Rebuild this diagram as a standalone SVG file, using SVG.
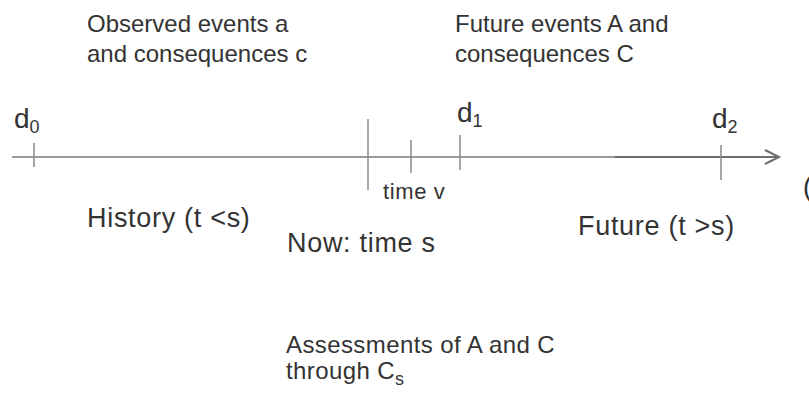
<svg xmlns="http://www.w3.org/2000/svg" width="809" height="396" viewBox="0 0 809 396">
<style>
text{font-family:"Liberation Sans",Arial,sans-serif;fill:#333}
.m{font-size:24px}
.b{font-size:27px;letter-spacing:0.7px}
.d{font-size:28px}
.sub{font-size:18px}
.tick{stroke:#8a8a8a;stroke-width:1.5}
</style>
<rect width="809" height="396" fill="#fff"/>
<g id="connectors">
<line x1="12" y1="157" x2="779" y2="157" stroke="#9a9a9a" stroke-width="2"/>
<line x1="615" y1="157" x2="779" y2="157" stroke="#6e6e6e" stroke-width="2"/>
<polyline points="765,150 779,157 765,164" fill="none" stroke="#6e6e6e" stroke-width="2"/>
</g>
<g id="d0"><line class="tick" x1="34" y1="143" x2="34" y2="167"/><text class="d" x="14" y="128">d<tspan class="sub" dy="5">0</tspan></text></g>
<g id="now"><line class="tick" x1="368" y1="119" x2="368" y2="190"/><text class="b" x="287" y="252">Now: time s</text></g>
<g id="timev"><line class="tick" x1="411" y1="140" x2="411" y2="173"/><text x="383" y="199" style="font-size:22px;letter-spacing:0.6px">time v</text></g>
<g id="d1"><line class="tick" x1="460" y1="135" x2="460" y2="170"/><text class="d" x="457" y="122">d<tspan class="sub" dy="5">1</tspan></text></g>
<g id="d2"><line class="tick" x1="721" y1="145" x2="721" y2="180"/><text class="d" x="712" y="128">d<tspan class="sub" dy="5">2</tspan></text></g>
<g id="observed"><text class="m" x="87" y="32">Observed events a</text><text class="m" x="87" y="62">and consequences c</text></g>
<g id="futureEvents"><text class="m" x="455" y="32">Future events A and</text><text class="m" x="455" y="62">consequences C</text></g>
<g id="history"><text class="b" x="87" y="227">History (t &lt;s)</text></g>
<g id="future"><text class="b" x="578" y="235">Future (t &gt;s)</text></g>
<g id="assess"><text class="m" x="286" y="353" style="letter-spacing:0.4px">Assessments of A and C</text><text class="m" x="286" y="379" style="letter-spacing:0.4px">through C<tspan class="sub" dy="6">s</tspan></text></g>
<g id="edge"><text class="b" x="803" y="196">(</text></g>
</svg>
